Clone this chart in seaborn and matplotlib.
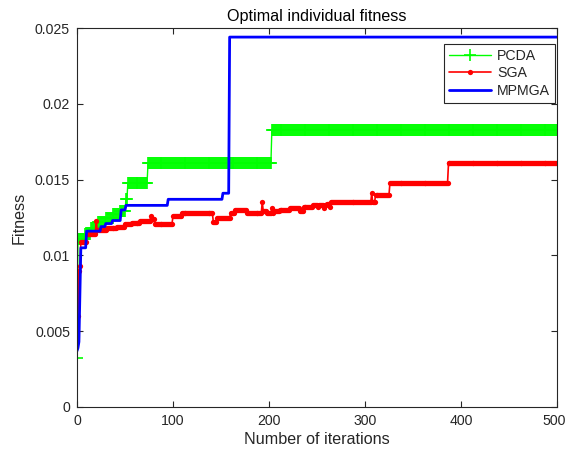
import numpy as np
import pandas as pd
import matplotlib
matplotlib.use('Agg')
import matplotlib.pyplot as plt
import matplotlib.transforms as mtransforms
import seaborn as sns

N_ITER = 500

# step breakpoints (iteration where value starts) and values
pcda_start = [0, 1, 8, 15, 22, 30, 38, 45, 51, 53, 74, 203]
pcda_value = [0.0032, 0.0111, 0.0114, 0.0118, 0.0122, 0.0125, 0.0127, 0.0129,
              0.0137, 0.0148, 0.0161, 0.0183]

sga_start = [0, 1, 2, 3, 4, 10, 20, 21, 31, 42, 50, 57, 66, 77, 78, 81, 100, 109,
             142, 146, 160, 165, 177, 193, 194, 198, 203, 204, 205, 211, 222, 232,
             236, 246, 251, 252, 257, 258, 260, 264, 265, 307, 308, 311, 326, 387]
sga_value = [0.0050, 0.0060, 0.0090, 0.0093, 0.0109, 0.0114, 0.0123, 0.0117,
             0.0118, 0.0119, 0.0121, 0.01215, 0.0123, 0.0126, 0.0124, 0.0121,
             0.0126, 0.0128, 0.0122, 0.01245, 0.0128, 0.0130, 0.0128, 0.01355,
             0.0129, 0.0128, 0.0131, 0.0128, 0.0129, 0.0130, 0.0131, 0.0129,
             0.0132, 0.0133, 0.0132, 0.0133, 0.0131, 0.0133, 0.0134, 0.0132,
             0.0135, 0.0141, 0.0135, 0.0140, 0.0148, 0.0161]

mpmga_start = [0, 1, 2, 3, 4, 10, 25, 30, 37, 46, 51, 95, 152, 159]
mpmga_value = [0.0037, 0.0039, 0.0043, 0.0075, 0.0105, 0.0116, 0.0119, 0.0121,
               0.0123, 0.0130, 0.0133, 0.0137, 0.0141, 0.0244]

x_ticks = [0, 100, 200, 300, 400, 500]
y_ticks = [0, 0.005, 0.01, 0.015, 0.02, 0.025]
y_tick_labels = ['0', '0.005', '0.01', '0.015', '0.02', '0.025']


def expand(starts, values):
    counts = np.diff(list(starts) + [N_ITER + 1])
    return np.repeat(values, counts)


iters = np.arange(0, N_ITER + 1)
pcda = expand(pcda_start, pcda_value)
sga = expand(sga_start, sga_value)
mpmga = expand(mpmga_start, mpmga_value)

sns.set_style('ticks')
plt.rcParams['font.family'] = ['Liberation Sans', 'DejaVu Sans']

fig = plt.figure(figsize=(5.67, 4.55), dpi=100)
ax = fig.add_axes([77 / 567, 1 - 407 / 455, 480 / 567, 379 / 455])

sns.lineplot(x=iters, y=pcda, ax=ax, color='#00FF00', linewidth=1.0,
             marker='+', markersize=8, markeredgewidth=1.2,
             markeredgecolor='#00FF00', label='PCDA', sort=False, estimator=None)
sns.lineplot(x=iters, y=sga, ax=ax, color='#FF0000', linewidth=1.2,
             marker='o', markersize=3.8, markeredgewidth=0,
             markerfacecolor='#FF0000', label='SGA', sort=False, estimator=None)
sns.lineplot(x=iters, y=mpmga, ax=ax, color='#0000FF', linewidth=2.0,
             label='MPMGA', sort=False, estimator=None)

ax.set_xlim(0, 500)
ax.set_ylim(0, 0.025)
ax.set_xticks(x_ticks)
ax.set_yticks(y_ticks)
ax.set_yticklabels(y_tick_labels)
ax.tick_params(direction='in', top=True, right=True, length=4.5, width=0.8,
               colors='#262626', labelsize=10.2, pad=5)
for s in ax.spines.values():
    s.set_color('#262626')
    s.set_linewidth(0.8)
    s.set_visible(True)

# nudge the last x tick label so it stays inside the figure
last = ax.get_xticklabels()[-1]
last.set_transform(last.get_transform() +
                   mtransforms.ScaledTranslation(-2.5 / 100, 0, fig.dpi_scale_trans))

ax.set_xlabel('Number of iterations', fontsize=11.6, color='#262626', labelpad=3)
ax.set_ylabel('Fitness', fontsize=11.6, color='#262626', labelpad=6)
ax.set_title('Optimal individual fitness', fontsize=11.6, color='black', pad=5)

leg = ax.legend(loc='upper right', bbox_to_anchor=(0.996, 0.958),
                borderaxespad=0, fancybox=False, framealpha=1,
                edgecolor='#262626', fontsize=10.2, handlelength=3.0,
                handletextpad=0.4, borderpad=0.35, labelspacing=0.25)
leg.get_frame().set_linewidth(0.8)

fig.savefig('out.png', dpi=100)
